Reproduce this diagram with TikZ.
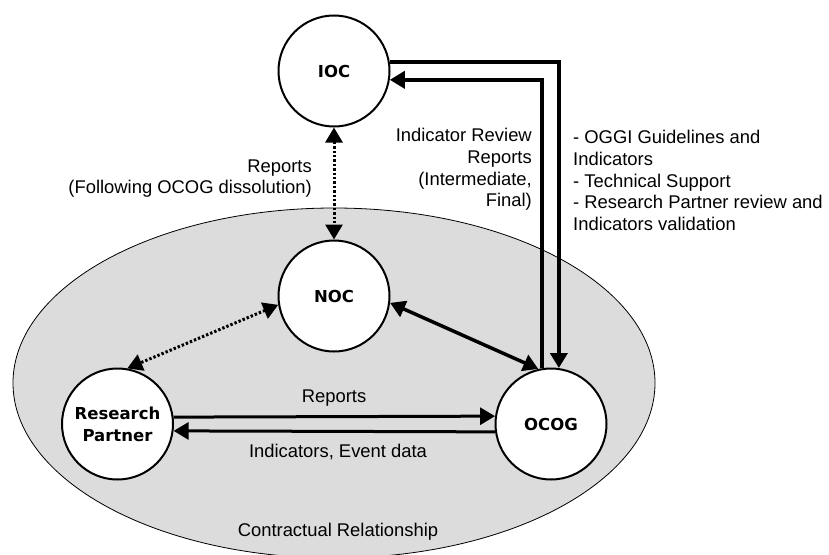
\documentclass[tikz,border=0pt]{standalone}
\usepackage{fontspec}
\setmainfont{Liberation Sans}
\newfontfamily\nodefont{DejaVu Sans}
\usetikzlibrary{arrows.meta}
\begin{document}
\begin{tikzpicture}[x=1pt,y=-1pt,
  >={Triangle[length=15pt,width=17pt]},
  ent/.style={circle, draw, line width=2pt, fill=white, minimum size=111pt,
    inner sep=0pt, align=center,
    font=\nodefont\bfseries\fontsize{16.5}{22}\selectfont},
  lbl/.style={inner sep=0pt, font=\fontsize{18.4}{21.7}\selectfont},
  dotconn/.style={line width=3pt, dash pattern=on 2.4pt off 2pt},
  conn/.style={line width=3pt},
  thickconn/.style={line width=4.5pt}
]
\useasboundingbox (0,0) rectangle (829,554);
\clip (0,0) rectangle (829,554);

% contractual area
\draw[fill={rgb,255:red,220;green,220;blue,220}, line width=0.8pt]
  (334,383) ellipse [x radius=321pt, y radius=175pt];
\node[lbl] (contract) at (338,532) {Contractual Relationship};

% entities
\node[ent] (IOC) at (334,71) {IOC};
\node[ent] (NOC) at (334,296) {NOC};
\node[ent] (RP) at (117.5,424) {Research\\Partner};
\node[ent] (OCOG) at (551,424) {OCOG};

% connectors
\draw[dotconn,<->] (IOC.south) -- (NOC.north);
\draw[dotconn,<->] (NOC.189) -- (RP.80);
\draw[conn,line width=3.5pt,<->] (NOC.-7) -- (OCOG.103);
\draw[conn,->] (RP.7.6) -- (OCOG.172);
\draw[conn,->] (OCOG.188) -- (RP.-7.6);
\draw[thickconn,->] (IOC.9) -| (OCOG.82);
\draw[thickconn,->] (OCOG.99) |- (IOC.-9);

% labels
\node[lbl, align=right, anchor=east] (lreports) at (312,178.5)
  {Reports\\(Following OCOG dissolution)};
\node[lbl, align=right, anchor=east] (lreview) at (532,169.5)
  {Indicator Review\\Reports\\(Intermediate,\\Final)};
\node[lbl, align=left, anchor=west] (lguide) at (573,180.5)
  {- OGGI Guidelines and\\Indicators\\- Technical Support\\- Research Partner review and\\Indicators validation};
\node[lbl] (lrp) at (334,398) {Reports};
\node[lbl] (lind) at (338,452) {Indicators, Event data};
\end{tikzpicture}
\end{document}
